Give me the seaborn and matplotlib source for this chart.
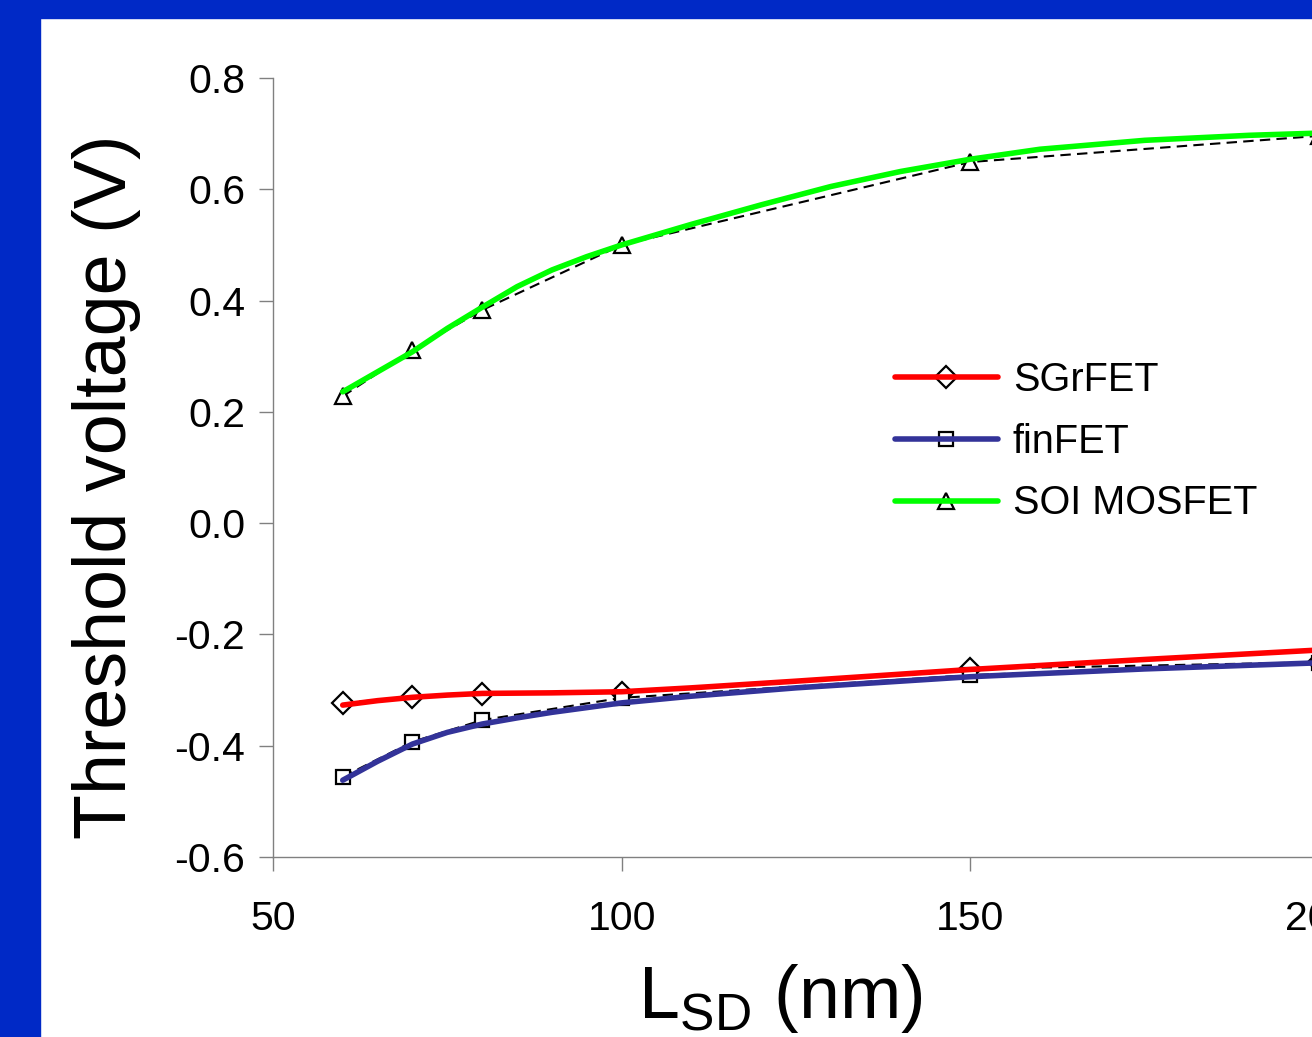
import matplotlib
matplotlib.use("Agg")
import matplotlib.pyplot as plt
from matplotlib.patches import Rectangle
from matplotlib.legend_handler import HandlerTuple
import seaborn as sns
import pandas as pd

# ---- data ----
lsd_points = [60, 70, 80, 100, 150, 200]
sgrfet_points = [-0.323, -0.313, -0.307, -0.305, -0.262, -0.250]
finfet_points = [-0.456, -0.393, -0.354, -0.314, -0.273, -0.251]
soi_points = [0.228, 0.311, 0.383, 0.500, 0.649, 0.696]

sgrfet_curve_x = [60, 65, 70, 75, 80, 90, 100, 110, 125, 150, 175, 200]
sgrfet_curve = [-0.327, -0.319, -0.313, -0.309, -0.306, -0.305, -0.303, -0.296, -0.284, -0.263, -0.245, -0.228]
finfet_curve_x = [60, 65, 70, 75, 80, 85, 90, 100, 110, 125, 150, 175, 200]
finfet_curve = [-0.462, -0.428, -0.397, -0.376, -0.361, -0.350, -0.340, -0.323, -0.311, -0.296, -0.276, -0.262, -0.251]
soi_curve_x = [60, 65, 70, 75, 80, 85, 90, 95, 100, 110, 120, 130, 140, 150, 160, 175, 190, 200]
soi_curve = [0.236, 0.272, 0.308, 0.350, 0.388, 0.425, 0.455, 0.479, 0.500, 0.537, 0.572, 0.605, 0.632,
             0.654, 0.672, 0.688, 0.697, 0.701]

series_names = ["SGrFET", "finFET", "SOI MOSFET"]
series_colors = ["#FF0000", "#333399", "#00FF00"]
series_markers = ["D", "s", "^"]
x_ticks = [50, 100, 150, 200]
y_ticks = [-0.6, -0.4, -0.2, 0.0, 0.2, 0.4, 0.6, 0.8]

sns.set_theme(style="white")
plt.rcParams["font.family"] = ["Liberation Sans", "DejaVu Sans"]
plt.rcParams["mathtext.fontset"] = "custom"
plt.rcParams["mathtext.rm"] = "Liberation Sans"

fig = plt.figure(figsize=(13.12, 10.37), dpi=100)
fig.patch.set_facecolor("white")
# blue slide border
border = "#0029C6"
fig.patches.append(Rectangle((0, 0), 40 / 1312, 1, transform=fig.transFigure, color=border, zorder=-1))
fig.patches.append(Rectangle((0, 1 - 18 / 1037), 1, 18 / 1037, transform=fig.transFigure, color=border, zorder=-1))

ax = fig.add_axes([273 / 1312, 1 - 857 / 1037, (1319 - 273) / 1312, (857 - 78) / 1037])
ax.set_facecolor("white")

pts = [sgrfet_points, finfet_points, soi_points]
cx = [sgrfet_curve_x, finfet_curve_x, soi_curve_x]
crv = [sgrfet_curve, finfet_curve, soi_curve]
msizes = {"D": 11, "s": 10, "^": 12}
handles = []
for name, col, mk, p, x, c in zip(series_names, series_colors, series_markers, pts, cx, crv):
    dfp = pd.DataFrame({"x": lsd_points, "y": p})
    dfc = pd.DataFrame({"x": x, "y": c})
    sns.lineplot(data=dfp, x="x", y="y", ax=ax, color="black", lw=1.5,
                 linestyle=(0, (5, 3)), marker=mk, markersize=msizes[mk],
                 markerfacecolor="white", markeredgecolor="black", markeredgewidth=1.6,
                 estimator=None, sort=False, zorder=2)
    hp = ax.lines[-1]
    sns.lineplot(data=dfc, x="x", y="y", ax=ax, color=col, lw=4.0,
                 estimator=None, sort=False, zorder=3)
    hc = ax.lines[-1]
    handles.append((hp, hc))

ax.set_xlim(50, 200)
ax.set_ylim(-0.6, 0.8)
ax.set_xticks(x_ticks)
ax.set_yticks(y_ticks)
ax.set_yticklabels([f"{v:.1f}" for v in y_ticks])
ax.tick_params(axis="both", direction="out", length=10, width=1, color="#808080",
               labelsize=29.5, labelcolor="black")
ax.tick_params(axis="x", pad=21)
ax.tick_params(axis="y", pad=10)
ax.xaxis.set_ticks_position("bottom")
ax.yaxis.set_ticks_position("left")
for s in ["top", "right"]:
    ax.spines[s].set_visible(False)
for s in ["left", "bottom"]:
    ax.spines[s].set_color("#808080")
    ax.spines[s].set_linewidth(1)

ax.set_ylabel("Threshold voltage (V)", fontsize=53, color="black", labelpad=24)
ax.yaxis.label.set_y(0.475)
ax.set_xlabel(r"L$_{\mathregular{SD}}$ (nm)", fontsize=53, color="black", labelpad=0)
ax.xaxis.set_label_coords((780 - 273) / (1319 - 273), -0.135)

leg = ax.legend(handles, series_names, handler_map={tuple: HandlerTuple(ndivide=1)},
                loc="upper left", bbox_to_anchor=(895 / 1312, 1 - 361 / 1037),
                bbox_transform=fig.transFigure, frameon=False, fontsize=28.5,
                handlelength=2.6, handletextpad=0.38, labelspacing=0.6, borderpad=0,
                borderaxespad=0, labelcolor="black")

fig.savefig("out.png", dpi=100)
